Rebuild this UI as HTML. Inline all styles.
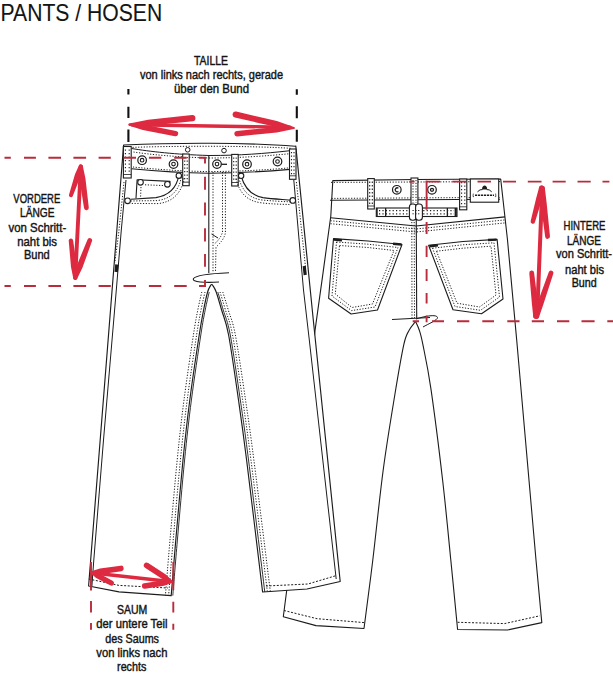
<!DOCTYPE html>
<html><head><meta charset="utf-8"><style>
html,body{margin:0;padding:0;background:#fff;}
body{width:613px;height:679px;overflow:hidden;}
svg{display:block;}
text{font-family:"Liberation Sans",sans-serif;fill:#141414;stroke:#141414;stroke-width:0.4px;}
</style></head><body>
<svg width="613" height="679" viewBox="0 0 613 679">
<path d="M332.8,180.6 L416,179.5 L500.7,179 L507.5,240 L516.7,340 L536,560 L541.8,622.6 L507.5,630 L457.6,629.5 C456.47,617.92 453.30,584.92 450.8,560 C448.30,535.08 445.92,508.55 442.6,480 C439.28,451.45 434.18,411.25 430.9,388.7 C427.62,366.15 424.82,354.40 422.9,344.7 C420.98,335.00 420.63,334.37 419.4,330.5 C418.17,326.63 416.15,323.00 415.5,321.5 C414.42,323.00 410.95,326.63 409,330.5 C407.05,334.37 406.17,333.95 403.8,344.7 C401.43,355.45 398.23,374.12 394.8,395 C391.37,415.88 386.87,442.50 383.2,470 C379.53,497.50 376.00,533.58 372.8,560 C369.60,586.42 365.47,617.08 364,628.5 L316,625.6 L283.3,616.8 L286.6,591.3 L315,330.7 L323.1,272.3 L330.8,216 Z" fill="#fff" stroke="#1c1c1c" stroke-width="1.1" stroke-linejoin="round" />
<path d="M330,200.3 L500,199.2" fill="none" stroke="#1c1c1c" stroke-width="1.1" stroke-linejoin="round" />
<path d="M331,182.4 L500,181.6" fill="none" stroke="#1c1c1c" stroke-width="1" stroke-dasharray="1.2 1.6" stroke-linejoin="round" />
<path d="M331.5,198.4 L500,197.4" fill="none" stroke="#1c1c1c" stroke-width="1" stroke-dasharray="1.2 1.6" stroke-linejoin="round" />
<path d="M330.5,217.7 L416,226 L505,216.9" fill="none" stroke="#1c1c1c" stroke-width="1.1" stroke-linejoin="round" />
<path d="M330.5,220.7 L416,229 L505,219.9" fill="none" stroke="#1c1c1c" stroke-width="1" stroke-dasharray="1.2 1.6" stroke-linejoin="round" />
<path d="M330.5,223.7 L416,232 L505,222.9" fill="none" stroke="#1c1c1c" stroke-width="1" stroke-dasharray="1.2 1.6" stroke-linejoin="round" />
<path d="M416.2,205 L416.7,318.5" fill="none" stroke="#1c1c1c" stroke-width="1.1" stroke-linejoin="round" />
<path d="M411.8,222 L412,318" fill="none" stroke="#1c1c1c" stroke-width="1" stroke-dasharray="1.2 1.6" stroke-linejoin="round" />
<path d="M414.2,222 L414.5,318" fill="none" stroke="#1c1c1c" stroke-width="1" stroke-dasharray="1.2 1.6" stroke-linejoin="round" />
<rect x="367.7" y="178.6" width="6.600000000000023" height="30.400000000000006" fill="#fff" stroke="#1c1c1c" stroke-width="1.1"/>
<path d="M369.7,181.6 L369.7,205" fill="none" stroke="#1c1c1c" stroke-width="1.1" stroke-dasharray="1.3 2.2" stroke-linejoin="round" />
<path d="M372.3,181.6 L372.3,205" fill="none" stroke="#1c1c1c" stroke-width="1.1" stroke-dasharray="1.3 2.2" stroke-linejoin="round" />
<path d="M367.7,206 L374.3,206" fill="none" stroke="#1c1c1c" stroke-width="0.8" stroke-linejoin="round" />
<rect x="459.6" y="179" width="7.199999999999989" height="30.80000000000001" fill="#fff" stroke="#1c1c1c" stroke-width="1.1"/>
<path d="M461.6,182 L461.6,205.8" fill="none" stroke="#1c1c1c" stroke-width="1.1" stroke-dasharray="1.3 2.2" stroke-linejoin="round" />
<path d="M464.8,182 L464.8,205.8" fill="none" stroke="#1c1c1c" stroke-width="1.1" stroke-dasharray="1.3 2.2" stroke-linejoin="round" />
<path d="M459.6,206.8 L466.8,206.8" fill="none" stroke="#1c1c1c" stroke-width="0.8" stroke-linejoin="round" />
<rect x="376.3" y="208" width="80.7" height="8.5" fill="#fff" stroke="#1c1c1c" stroke-width="1.1"/>
<path d="M379,210.6 L454,210.6" fill="none" stroke="#1c1c1c" stroke-width="1.1" stroke-dasharray="1.2 2.2" stroke-linejoin="round" />
<path d="M379,213.9 L454,213.9" fill="none" stroke="#1c1c1c" stroke-width="1.1" stroke-dasharray="1.2 2.2" stroke-linejoin="round" />
<rect x="376.3" y="208" width="1.4" height="8.5" fill="#1c1c1c"/>
<rect x="385" y="208" width="1.3" height="8.5" fill="#1c1c1c"/>
<rect x="446.7" y="208" width="1.3" height="8.5" fill="#1c1c1c"/>
<rect x="454.6" y="208" width="2.2" height="8.5" fill="#1c1c1c"/>
<rect x="411" y="178" width="6.9" height="27" fill="#fff" stroke="#1c1c1c" stroke-width="1.1"/>
<path d="M413,180 L413,203" fill="none" stroke="#1c1c1c" stroke-width="1" stroke-dasharray="1.2 1.6" stroke-linejoin="round" />
<path d="M416,180 L416,203" fill="none" stroke="#1c1c1c" stroke-width="1" stroke-dasharray="1.2 1.6" stroke-linejoin="round" />
<rect x="409.4" y="204" width="6.8" height="16.3" rx="3" fill="#fff" stroke="#1c1c1c" stroke-width="1.1"/>
<rect x="415.6" y="204" width="6.8" height="16.3" rx="3" fill="#fff" stroke="#1c1c1c" stroke-width="1.1"/>
<path d="M412.5,210.5 L419.5,210.5" fill="none" stroke="#1c1c1c" stroke-width="1" stroke-dasharray="1.2 1.6" stroke-linejoin="round" />
<path d="M412.5,213.8 L419.5,213.8" fill="none" stroke="#1c1c1c" stroke-width="1" stroke-dasharray="1.2 1.6" stroke-linejoin="round" />
<circle cx="396.8" cy="189.8" r="4.3" fill="#fff" stroke="#1c1c1c" stroke-width="1.2"/>
<path d="M398.4,188.2 A2.0,2.0 0 1 0 398.4,191.4" fill="none" stroke="#1c1c1c" stroke-width="1.3"/>
<circle cx="432" cy="189.8" r="4.3" fill="#fff" stroke="#1c1c1c" stroke-width="1.2"/>
<circle cx="432" cy="189.8" r="1.5" fill="none" stroke="#1c1c1c" stroke-width="1.3"/>
<rect x="470.3" y="179" width="28.4" height="23.2" fill="#fff" stroke="#1c1c1c" stroke-width="1.1"/>
<path d="M482,189.5 C482,186.5 483.5,185.5 484.6,185.5 C485.7,185.5 487.2,186.5 487.2,189.5 Z" fill="#1c1c1c"/>
<path d="M477.5,191.8 Q480,189 482.5,189.6 M486.7,189.6 Q489.2,189 491.7,191.8" fill="none" stroke="#1c1c1c" stroke-width="1"/>
<path d="M473.3,193.6 L473,196.6 L474,196.6 M495.6,193.6 L495.9,196.6 L494.9,196.6" fill="none" stroke="#1c1c1c" stroke-width="0.7"/>
<path d="M475,195.2 L494,195.2" fill="none" stroke="#1c1c1c" stroke-width="1.6" stroke-dasharray="2.2 0.8"/>
<path d="M333.5,238.6 L368,241 L402,244.5 L377.5,310 L351.1,314 L328.6,298.3 Z" fill="none" stroke="#1c1c1c" stroke-width="1.1" stroke-linejoin="round" />
<path d="M336.5,242 L368,244.2 L398,247.5 L375,307 L351.5,310.6 L332,296 Z" fill="none" stroke="#1c1c1c" stroke-width="1" stroke-dasharray="1.2 1.6" stroke-linejoin="round" />
<path d="M339.5,245.5 L368,247.5 L394,250.5 L372.5,304 L352,307.5 L335.3,294 Z" fill="none" stroke="#1c1c1c" stroke-width="1" stroke-dasharray="1.2 1.6" stroke-linejoin="round" />
<path d="M333.8,239.6 L342,240.2" fill="none" stroke="#1c1c1c" stroke-width="2.4" stroke-linejoin="round" />
<path d="M393,243.8 L401.5,244.5" fill="none" stroke="#1c1c1c" stroke-width="2.4" stroke-linejoin="round" />
<path d="M428.6,245.2 L463,241.5 L497.1,239.4 L503,299 L481.5,313.8 L453,309.8 Z" fill="none" stroke="#1c1c1c" stroke-width="1.1" stroke-linejoin="round" />
<path d="M432.5,248.2 L463,244.8 L494,242.8 L499.5,297 L480.5,310.3 L455,306.5 Z" fill="none" stroke="#1c1c1c" stroke-width="1" stroke-dasharray="1.2 1.6" stroke-linejoin="round" />
<path d="M436.5,251.2 L463,248.2 L491,246.2 L496,295 L479.5,307 L457,303.2 Z" fill="none" stroke="#1c1c1c" stroke-width="1" stroke-dasharray="1.2 1.6" stroke-linejoin="round" />
<path d="M429.5,246.2 L438,245.4" fill="none" stroke="#1c1c1c" stroke-width="2.4" stroke-linejoin="round" />
<path d="M488,240 L496.5,239.6" fill="none" stroke="#1c1c1c" stroke-width="2.4" stroke-linejoin="round" />
<path d="M392,319.5 L430,317.5" fill="none" stroke="#1c1c1c" stroke-width="1" stroke-linejoin="round" />
<path d="M416,319 C425,316 437,314 437.5,317.5 C438,320 428,324 423,327" fill="none" stroke="#1c1c1c" stroke-width="1" stroke-linejoin="round" />
<path d="M284,610.5 L317,618.7 L364,622.6" fill="none" stroke="#1c1c1c" stroke-width="1" stroke-dasharray="2 1.6" stroke-linejoin="round" />
<path d="M457.6,622.3 L504.6,623.6 L539.8,615.8" fill="none" stroke="#1c1c1c" stroke-width="1" stroke-dasharray="2 1.6" stroke-linejoin="round" />
<path d="M123.6,145 C175,142.6 245,142.4 295.2,146.2 L295.8,146 L313.3,320 L340.2,581.5 L307,589 L262.6,592 C259.93,570.00 250.62,492.00 246.6,460 C242.58,428.00 241.50,420.83 238.5,400 C235.50,379.17 231.42,350.00 228.6,335 C225.78,320.00 223.67,317.17 221.6,310 C219.53,302.83 217.67,296.10 216.2,292 C214.73,287.90 213.37,286.50 212.8,285.4 C212.2,284.2 211.2,284.2 210.6,285.4 C210.10,286.50 208.77,287.90 207.6,292 C206.43,296.10 205.00,302.83 203.6,310 C202.20,317.17 201.50,320.00 199.2,335 C196.90,350.00 192.50,379.17 189.8,400 C187.10,420.83 185.33,436.67 183.0,460 C180.67,483.33 177.77,517.40 175.8,540 C173.83,562.60 171.97,586.33 171.2,595.6 L119,591.9 L88.6,586 Z" fill="#fff" stroke="#1c1c1c" stroke-width="1.15" stroke-linejoin="round" />
<path d="M126,180 L121.3,230 L116.3,290 L103.5,440 L93.8,560 L91.9,586" fill="none" stroke="#1c1c1c" stroke-width="1" stroke-linejoin="round" />
<path d="M124,182 L118.8,232 L114.8,263" fill="none" stroke="#1c1c1c" stroke-width="1" stroke-dasharray="1.2 1.6" stroke-linejoin="round" />
<path d="M293.8,180 L303.5,290 L309.3,340 L336.2,579" fill="none" stroke="#1c1c1c" stroke-width="1" stroke-linejoin="round" />
<path d="M296.4,182 L305.5,267" fill="none" stroke="#1c1c1c" stroke-width="1" stroke-dasharray="1.2 1.6" stroke-linejoin="round" />
<path d="M116.9,264.5 L116.2,272" fill="none" stroke="#1c1c1c" stroke-width="3.4" stroke-linejoin="round" />
<path d="M304.2,266 L305.2,275" fill="none" stroke="#1c1c1c" stroke-width="3.2" stroke-linejoin="round" />
<path d="M209.2,292 C208.53,295.00 206.60,302.83 205.2,310 C203.80,317.17 203.10,320.00 200.8,335 C198.50,350.00 194.10,379.17 191.4,400 C188.70,420.83 186.93,436.67 184.6,460 C182.27,483.33 179.37,517.40 177.4,540 C175.43,562.60 173.57,586.33 172.8,595.6" fill="none" stroke="#1c1c1c" stroke-width="0.9" stroke-linejoin="round" />
<path d="M205.0,292 C204.33,295.00 202.40,302.83 201.0,310 C199.60,317.17 198.90,320.00 196.6,335 C194.30,350.00 189.90,379.17 187.2,400 C184.50,420.83 182.73,436.67 180.4,460 C178.07,483.33 175.17,517.40 173.2,540 C171.23,562.60 169.37,586.33 168.6,595.6" fill="none" stroke="#1c1c1c" stroke-width="1" stroke-dasharray="1.2 1.6" stroke-linejoin="round" />
<path d="M201.8,292 C201.13,295.00 199.20,302.83 197.8,310 C196.40,317.17 195.70,320.00 193.4,335 C191.10,350.00 186.70,379.17 184.0,400 C181.30,420.83 179.53,436.67 177.2,460 C174.87,483.33 171.97,517.40 170.0,540 C168.03,562.60 166.17,586.33 165.4,595.6" fill="none" stroke="#1c1c1c" stroke-width="1" stroke-dasharray="1.2 1.6" stroke-linejoin="round" />
<path d="M217.79999999999998,292 C218.71,295.00 221.15,302.83 223.236,310 C225.32,317.17 227.44,320.00 230.286,335 C233.13,350.00 237.27,379.17 240.316,400 C243.36,420.83 244.46,428.00 248.536,460 C252.62,492.00 262.09,570.00 264.80000000000007,592" fill="none" stroke="#1c1c1c" stroke-width="0.9" stroke-linejoin="round" />
<path d="M220.0,292 C220.91,295.00 223.37,302.83 225.46,310 C227.55,317.17 229.68,320.00 232.54333333333335,335 C235.41,350.00 239.59,379.17 242.66000000000003,400 C245.73,420.83 246.84,428.00 250.96,460 C255.08,492.00 264.66,570.00 267.40000000000003,592" fill="none" stroke="#1c1c1c" stroke-width="1" stroke-dasharray="1.2 1.6" stroke-linejoin="round" />
<path d="M222.79999999999998,292 C223.71,295.00 226.18,302.83 228.272,310 C230.37,317.17 232.50,320.00 235.37199999999999,335 C238.25,350.00 242.45,379.17 245.53199999999998,400 C248.62,420.83 249.73,428.00 253.87199999999999,460 C258.02,492.00 267.65,570.00 270.40000000000003,592" fill="none" stroke="#1c1c1c" stroke-width="1" stroke-dasharray="1.2 1.6" stroke-linejoin="round" />
<path d="M88.8,579 L119,585.4 L168,588" fill="none" stroke="#1c1c1c" stroke-width="1" stroke-dasharray="2 1.6" stroke-linejoin="round" />
<path d="M266,586 L308,584 L336.5,575.5" fill="none" stroke="#1c1c1c" stroke-width="1" stroke-dasharray="2 1.6" stroke-linejoin="round" />
<path d="M131.5,168.7 C150,170.5 180,172.8 209,173.2 C240,173 265,171.6 290,169.4" fill="none" stroke="#1c1c1c" stroke-width="1.1" stroke-linejoin="round" />
<path d="M133,167 C150,168.8 180,171.2 209,171.6 C240,171.4 265,170 289,167.9" fill="none" stroke="#1c1c1c" stroke-width="1" stroke-dasharray="1.2 1.6" stroke-linejoin="round" />
<path d="M127,147.6 C170,145.8 250,145.6 292,148.4" fill="none" stroke="#1c1c1c" stroke-width="1" stroke-dasharray="1.2 1.6" stroke-linejoin="round" />
<path d="M131.5,148.5 C150,151.5 175,154.5 209,155.5 C240,155.5 265,153.5 289,150.8" fill="none" stroke="#1c1c1c" stroke-width="1.0" stroke-linejoin="round" />
<path d="M133.5,152 C150,154.5 175,157 209,158 C240,158 265,156 289,153.8" fill="none" stroke="#1c1c1c" stroke-width="1" stroke-dasharray="1.2 1.6" stroke-linejoin="round" />
<path d="M208.8,155.5 L208.8,273" fill="none" stroke="#1c1c1c" stroke-width="1.1" stroke-linejoin="round" />
<circle cx="142.1" cy="160.2" r="4.3" fill="#fff" stroke="#1c1c1c" stroke-width="1.2"/>
<circle cx="142.1" cy="160.2" r="1.8" fill="none" stroke="#1c1c1c" stroke-width="1.1"/>
<circle cx="173.5" cy="164.1" r="4.3" fill="#fff" stroke="#1c1c1c" stroke-width="1.2"/>
<circle cx="173.5" cy="164.1" r="1.8" fill="none" stroke="#1c1c1c" stroke-width="1.1"/>
<circle cx="217" cy="164.1" r="4.3" fill="#fff" stroke="#1c1c1c" stroke-width="1.2"/>
<circle cx="217" cy="164.1" r="1.8" fill="none" stroke="#1c1c1c" stroke-width="1.1"/>
<circle cx="247" cy="164.2" r="4.3" fill="#fff" stroke="#1c1c1c" stroke-width="1.2"/>
<circle cx="247" cy="164.2" r="1.8" fill="none" stroke="#1c1c1c" stroke-width="1.1"/>
<circle cx="277.5" cy="161.5" r="4.3" fill="#fff" stroke="#1c1c1c" stroke-width="1.2"/>
<circle cx="277.5" cy="161.5" r="1.8" fill="none" stroke="#1c1c1c" stroke-width="1.1"/>
<path d="M221.5,164.3 L227,164.3" fill="none" stroke="#1c1c1c" stroke-width="1.3" stroke-linejoin="round" />
<circle cx="187.7" cy="149.8" r="2.3" fill="#fff" stroke="#1c1c1c" stroke-width="1"/>
<circle cx="224" cy="150.6" r="2.3" fill="#fff" stroke="#1c1c1c" stroke-width="1"/>
<rect x="123.4" y="146.5" width="7.8" height="31.5" fill="#fff" stroke="#1c1c1c" stroke-width="1.1"/>
<path d="M125.4,149.5 L125.4,174" fill="none" stroke="#1c1c1c" stroke-width="1.1" stroke-dasharray="1.3 2.2" stroke-linejoin="round" />
<path d="M129.2,149.5 L129.2,174" fill="none" stroke="#1c1c1c" stroke-width="1.1" stroke-dasharray="1.3 2.2" stroke-linejoin="round" />
<path d="M123.4,174.5 L131.2,174.5" fill="none" stroke="#1c1c1c" stroke-width="0.8" stroke-linejoin="round" />
<rect x="182.7" y="154" width="6.5" height="31.7" fill="#fff" stroke="#1c1c1c" stroke-width="1.1"/>
<path d="M184.7,157 L184.7,181.7" fill="none" stroke="#1c1c1c" stroke-width="1.1" stroke-dasharray="1.3 2.2" stroke-linejoin="round" />
<path d="M187.2,157 L187.2,181.7" fill="none" stroke="#1c1c1c" stroke-width="1.1" stroke-dasharray="1.3 2.2" stroke-linejoin="round" />
<path d="M182.7,182.2 L189.2,182.2" fill="none" stroke="#1c1c1c" stroke-width="0.8" stroke-linejoin="round" />
<rect x="231.7" y="154.4" width="6.5" height="31.6" fill="#fff" stroke="#1c1c1c" stroke-width="1.1"/>
<path d="M233.7,157.4 L233.7,182" fill="none" stroke="#1c1c1c" stroke-width="1.1" stroke-dasharray="1.3 2.2" stroke-linejoin="round" />
<path d="M236.2,157.4 L236.2,182" fill="none" stroke="#1c1c1c" stroke-width="1.1" stroke-dasharray="1.3 2.2" stroke-linejoin="round" />
<path d="M231.7,182.5 L238.2,182.5" fill="none" stroke="#1c1c1c" stroke-width="0.8" stroke-linejoin="round" />
<rect x="289.5" y="149" width="6.5" height="30.3" fill="#fff" stroke="#1c1c1c" stroke-width="1.1"/>
<path d="M291.5,152 L291.5,175.3" fill="none" stroke="#1c1c1c" stroke-width="1.1" stroke-dasharray="1.3 2.2" stroke-linejoin="round" />
<path d="M294,152 L294,175.3" fill="none" stroke="#1c1c1c" stroke-width="1.1" stroke-dasharray="1.3 2.2" stroke-linejoin="round" />
<path d="M289.5,175.8 L296,175.8" fill="none" stroke="#1c1c1c" stroke-width="0.8" stroke-linejoin="round" />
<path d="M213,172 L213,272" fill="none" stroke="#1c1c1c" stroke-width="1" stroke-dasharray="1.2 1.6" stroke-linejoin="round" />
<path d="M225.4,172 L225.4,233 Q224,240 216,247 L215.5,272" fill="none" stroke="#1c1c1c" stroke-width="1" stroke-dasharray="1.2 1.6" stroke-linejoin="round" />
<path d="M222.5,172 L222.5,232 Q221,238 214.5,244" fill="none" stroke="#1c1c1c" stroke-width="1" stroke-dasharray="1.2 1.6" stroke-linejoin="round" />
<path d="M211.5,234 L218,238" fill="none" stroke="#1c1c1c" stroke-width="1" stroke-linejoin="round" />
<path d="M170.2,181.4 L137.1,179.7 L136,198.2" fill="none" stroke="#1c1c1c" stroke-width="1.1" stroke-linejoin="round" />
<path d="M170.2,181.4 L168.5,187" fill="none" stroke="#1c1c1c" stroke-width="1.1" stroke-linejoin="round" />
<path d="M145,184.8 L164,185.6" fill="none" stroke="#1c1c1c" stroke-width="1" stroke-dasharray="1.2 1.6" stroke-linejoin="round" />
<path d="M141,187 L140.6,197" fill="none" stroke="#1c1c1c" stroke-width="1" stroke-dasharray="1.2 1.6" stroke-linejoin="round" />
<path d="M178.8,175.7 C176.5,188 169,195.5 156,197.6 L131,199.2" fill="none" stroke="#1c1c1c" stroke-width="1.1" stroke-linejoin="round" />
<path d="M181.3,177.2 C179,190.5 171,199 157,200.6 L130,201" fill="none" stroke="#1c1c1c" stroke-width="1" stroke-dasharray="1.2 1.6" stroke-linejoin="round" />
<path d="M184,178.2 C181.5,193 173,202 158,203.6 L130,203.4" fill="none" stroke="#1c1c1c" stroke-width="1" stroke-dasharray="1.2 1.6" stroke-linejoin="round" />
<circle cx="140.5" cy="182.3" r="2.8" fill="#fff" stroke="#1c1c1c" stroke-width="1.1"/>
<circle cx="167.4" cy="184.3" r="2.8" fill="#fff" stroke="#1c1c1c" stroke-width="1.1"/>
<circle cx="178.8" cy="175.7" r="2.7" fill="#fff" stroke="#1c1c1c" stroke-width="1.1"/>
<circle cx="127.6" cy="200.8" r="2.8" fill="#fff" stroke="#1c1c1c" stroke-width="1.1"/>
<path d="M241.1,176 C244.5,188 251,195.5 263,197.6 C272,198.8 282,199.4 292.8,200.4" fill="none" stroke="#1c1c1c" stroke-width="1.1" stroke-linejoin="round" />
<path d="M238.8,177.8 C242,190.5 249,198.2 262,200 C272,201 282,201.5 290,201.8" fill="none" stroke="#1c1c1c" stroke-width="1" stroke-dasharray="1.2 1.6" stroke-linejoin="round" />
<path d="M236,178.8 C239.5,193 247,201 261,202.8 C271,204 281,204.3 290,204.5" fill="none" stroke="#1c1c1c" stroke-width="1" stroke-dasharray="1.2 1.6" stroke-linejoin="round" />
<circle cx="241.1" cy="175.8" r="2.7" fill="#fff" stroke="#1c1c1c" stroke-width="1.1"/>
<circle cx="292.8" cy="200.4" r="2.8" fill="#fff" stroke="#1c1c1c" stroke-width="1.1"/>
<path d="M229,272.7 C210,273.5 196,275 193.5,278.5 C191.5,282 205,283 219,282" fill="none" stroke="#1c1c1c" stroke-width="1.1" stroke-linejoin="round" />
<path d="M4.5,157.8 L10.8,157.8 M24,157.8 L35.9,157.8 M48.4,157.8 L61,157.8 M73.4,157.8 L86.1,157.8 M98.6,157.8 L110.8,157.8 M123.5,157.8 L136,157.8 M148.9,157.8 L161.3,157.8 M174.2,157.8 L186.7,157.8 M199,157.8 L205.8,157.8" stroke="#b92c3b" stroke-width="1.9" fill="none"/>
<path d="M4.5,286.0 L10.8,286.0 M24,286.0 L35.9,286.0 M48.4,286.0 L61,286.0 M73.4,286.0 L86.1,286.0 M98.6,286.0 L110.8,286.0 M123.5,286.0 L136,286.0 M148.9,286.0 L161.3,286.0 M174.2,286.0 L186.7,286.0 M199,286.0 L205.8,286.0" stroke="#b92c3b" stroke-width="1.9" fill="none"/>
<path d="M205.0,156.9 L205.0,163.4 M205.0,176.8 L205.0,189.7 M205.0,202.6 L205.0,215.5 M205.0,228.2 L205.0,241.5 M205.0,254.1 L205.0,266.8 M205.0,280 L205.0,286.9" stroke="#b92c3b" stroke-width="1.9" fill="none"/>
<path d="M409.4,181.6 L414.6,181.6 M425.6,181.6 L440,181.6 M452.4,181.6 L466.1,181.6 M477.5,181.6 L491,181.6 M503,181.6 L516,181.6 M527.8,181.6 L541.5,181.6 M552.6,181.6 L565.7,181.6 M577.5,181.6 L590.7,181.6 M602.5,181.6 L609.4,181.6" stroke="#b92c3b" stroke-width="1.9" fill="none"/>
<path d="M426.6,180.7 L426.6,209.8 M426.6,221.9 L426.6,234 M426.6,245.8 L426.6,257.1 M426.6,269 L426.6,280.9 M426.6,292.9 L426.6,303.5 M426.6,315.4 L426.6,322.2" stroke="#b92c3b" stroke-width="1.9" fill="none"/>
<path d="M412.7,321.3 L419,321.3 M432,321.3 L444,321.3 M457,321.3 L469.3,321.3 M482.3,321.3 L494,321.3 M507.3,321.3 L519.5,321.3 M531.8,321.3 L544,321.3 M557,321.3 L569.3,321.3 M581.5,321.3 L594.6,321.3 M607.3,321.3 L613,321.3" stroke="#b92c3b" stroke-width="1.9" fill="none"/>
<path d="M91,562 L91,590.5 M91,601 L91,612.4 M91,623 L91,629.7" stroke="#b92c3b" stroke-width="1.9" fill="none"/>
<path d="M173.3,562 L173.3,589.8 M173.3,601.8 L173.3,612.4 M173.3,623.7 L173.3,629.7" stroke="#b92c3b" stroke-width="1.9" fill="none"/>
<path d="M128.4,89.1 L128.4,94.6 M128.4,106.8 L128.4,118.1 M128.4,129.5 L128.4,141.9" stroke="#111" stroke-width="2.1" fill="none"/>
<path d="M296.8,89.3 L296.8,94.8 M296.8,106.3 L296.8,118.3 M296.8,129.7 L296.8,141.7" stroke="#111" stroke-width="2.1" fill="none"/>
<line x1="132" y1="124.8" x2="290" y2="127.2" stroke="#de2a40" stroke-width="3.4" stroke-linecap="round"/>
<path d="M129.61,125.69 L148.70,125.66 L192.81,121.28 A3.10,3.10 0 0 0 192.19,115.12 L148.10,119.70 L129.39,123.51 A1.10,1.10 0 0 0 129.61,125.69 Z" fill="#de2a40"/>
<path d="M129.29,125.68 L142.76,130.05 L174.98,136.25 A2.70,2.70 0 0 0 176.02,130.95 L143.84,124.55 L129.71,123.52 A1.10,1.10 0 0 0 129.29,125.68 Z" fill="#de2a40"/>
<path d="M293.85,126.93 L276.85,121.03 L236.18,111.58 A3.00,3.00 0 0 0 234.82,117.42 L275.49,126.87 L293.35,129.07 A1.10,1.10 0 0 0 293.85,126.93 Z" fill="#de2a40"/>
<path d="M293.49,126.91 L276.33,126.95 L236.72,131.11 A2.70,2.70 0 0 0 237.28,136.49 L276.91,132.53 L293.71,129.09 A1.10,1.10 0 0 0 293.49,126.91 Z" fill="#de2a40"/>
<line x1="80.8" y1="167" x2="75.3" y2="276" stroke="#de2a40" stroke-width="3.9" stroke-linecap="round"/>
<path d="M78.81,165.82 L74.99,174.16 L69.01,194.65 A2.00,2.00 0 0 0 72.79,195.95 L80.67,176.12 L82.79,167.18 A2.10,2.10 0 0 0 78.81,165.82 Z" fill="#de2a40"/>
<path d="M78.72,166.78 L79.51,179.29 L84.02,208.12 A2.40,2.40 0 0 0 88.78,207.48 L85.45,178.49 L82.88,166.22 A2.10,2.10 0 0 0 78.72,166.78 Z" fill="#de2a40"/>
<path d="M77.39,277.55 L76.96,266.26 L73.08,240.24 A2.20,2.20 0 0 0 68.72,240.76 L71.00,266.96 L73.21,278.05 A2.10,2.10 0 0 0 77.39,277.55 Z" fill="#de2a40"/>
<path d="M77.26,278.56 L82.42,267.69 L91.94,241.36 A2.40,2.40 0 0 0 87.46,239.64 L76.82,265.53 L73.34,277.04 A2.10,2.10 0 0 0 77.26,278.56 Z" fill="#de2a40"/>
<line x1="542.2" y1="189" x2="537.2" y2="314" stroke="#de2a40" stroke-width="4.0" stroke-linecap="round"/>
<path d="M539.01,187.71 L536.28,197.67 L530.68,221.12 A2.20,2.20 0 0 0 534.92,222.28 L542.06,199.25 L544.79,189.29 A3.00,3.00 0 0 0 539.01,187.71 Z" fill="#de2a40"/>
<path d="M538.92,188.85 L540.63,203.28 L545.22,236.88 A2.40,2.40 0 0 0 549.98,236.32 L546.59,202.58 L544.88,188.15 A3.00,3.00 0 0 0 538.92,188.85 Z" fill="#de2a40"/>
<path d="M539.18,315.69 L537.83,302.79 L534.09,272.75 A2.40,2.40 0 0 0 529.31,273.25 L531.87,303.41 L533.22,316.31 A3.00,3.00 0 0 0 539.18,315.69 Z" fill="#de2a40"/>
<path d="M539.04,316.98 L543.48,304.08 L553.27,273.78 A2.40,2.40 0 0 0 548.73,272.22 L537.80,302.12 L533.36,315.02 A3.00,3.00 0 0 0 539.04,316.98 Z" fill="#de2a40"/>
<line x1="93" y1="573" x2="170" y2="581.5" stroke="#de2a40" stroke-width="3.4" stroke-linecap="round"/>
<path d="M91.67,573.69 L100.75,574.14 L121.39,571.17 A2.80,2.80 0 0 0 120.61,565.63 L99.95,568.40 L91.33,571.31 A1.20,1.20 0 0 0 91.67,573.69 Z" fill="#de2a40"/>
<path d="M90.94,573.56 L96.13,578.12 L110.08,585.30 A2.60,2.60 0 0 0 112.52,580.70 L98.75,573.18 L92.06,571.44 A1.20,1.20 0 0 0 90.94,573.56 Z" fill="#de2a40"/>
<path d="M172.45,580.79 L165.82,574.45 L148.18,562.97 A2.90,2.90 0 0 0 145.02,567.83 L162.66,579.31 L171.15,582.81 A1.20,1.20 0 0 0 172.45,580.79 Z" fill="#de2a40"/>
<path d="M171.62,580.61 L163.21,580.29 L144.19,583.33 A2.70,2.70 0 0 0 145.01,588.67 L164.07,585.83 L171.98,582.99 A1.20,1.20 0 0 0 171.62,580.61 Z" fill="#de2a40"/>
<text x="0.6" y="21.0" font-size="23.8" text-anchor="start" textLength="161.6" lengthAdjust="spacingAndGlyphs" style="stroke-width:0.1px">PANTS / HOSEN</text>
<text x="211" y="65" font-size="11.9" text-anchor="middle" textLength="34" lengthAdjust="spacingAndGlyphs" >TAILLE</text>
<text x="211.5" y="79.0" font-size="11.9" text-anchor="middle" textLength="143" lengthAdjust="spacingAndGlyphs" >von links nach rechts, gerade</text>
<text x="211.5" y="93" font-size="11.9" text-anchor="middle" textLength="75" lengthAdjust="spacingAndGlyphs" >über den Bund</text>
<text x="36.8" y="202.5" font-size="11.9" text-anchor="middle" textLength="47.0" lengthAdjust="spacingAndGlyphs" >VORDERE</text>
<text x="37.2" y="216.5" font-size="11.9" text-anchor="middle" textLength="34.4" lengthAdjust="spacingAndGlyphs" >LÄNGE</text>
<text x="37.4" y="231.7" font-size="11.9" text-anchor="middle" textLength="57.7" lengthAdjust="spacingAndGlyphs" >von Schritt-</text>
<text x="37.1" y="245.6" font-size="11.9" text-anchor="middle" textLength="39.8" lengthAdjust="spacingAndGlyphs" >naht bis</text>
<text x="36.8" y="259.3" font-size="11.9" text-anchor="middle" textLength="25.8" lengthAdjust="spacingAndGlyphs" >Bund</text>
<text x="584.5" y="230.2" font-size="11.9" text-anchor="middle" textLength="41.9" lengthAdjust="spacingAndGlyphs" >HINTERE</text>
<text x="584.0" y="244.5" font-size="11.9" text-anchor="middle" textLength="34" lengthAdjust="spacingAndGlyphs" >LÄNGE</text>
<text x="584.0" y="258" font-size="11.9" text-anchor="middle" textLength="56" lengthAdjust="spacingAndGlyphs" >von Schritt-</text>
<text x="584.5" y="273.6" font-size="11.9" text-anchor="middle" textLength="39" lengthAdjust="spacingAndGlyphs" >naht bis</text>
<text x="584.2" y="287" font-size="11.9" text-anchor="middle" textLength="25.0" lengthAdjust="spacingAndGlyphs" >Bund</text>
<text x="132.2" y="613.9" font-size="11.9" text-anchor="middle" textLength="30.3" lengthAdjust="spacingAndGlyphs" >SAUM</text>
<text x="131.9" y="627.6" font-size="11.9" text-anchor="middle" textLength="71.1" lengthAdjust="spacingAndGlyphs" >der untere Teil</text>
<text x="132.1" y="642.8" font-size="11.9" text-anchor="middle" textLength="53.8" lengthAdjust="spacingAndGlyphs" >des Saums</text>
<text x="131.9" y="656.5" font-size="11.9" text-anchor="middle" textLength="71.1" lengthAdjust="spacingAndGlyphs" >von links nach</text>
<text x="131.7" y="671" font-size="11.9" text-anchor="middle" textLength="29.3" lengthAdjust="spacingAndGlyphs" >rechts</text>
</svg>
</body></html>
